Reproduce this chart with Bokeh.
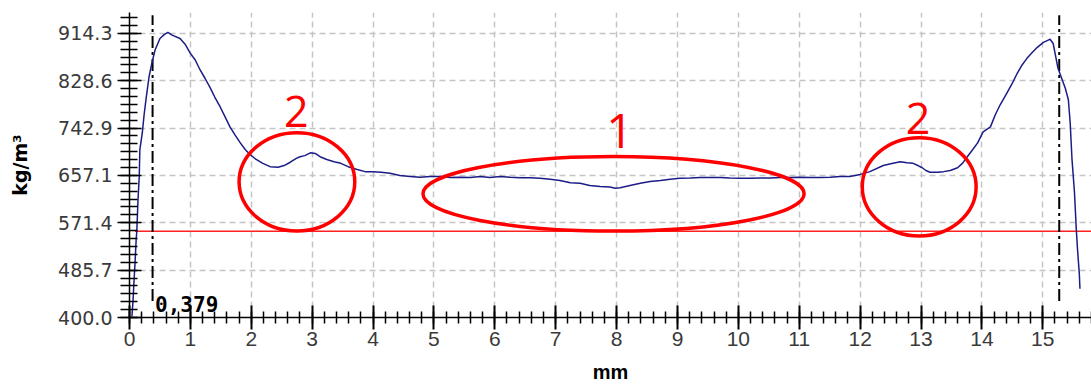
from bokeh.plotting import figure
from bokeh.models import FixedTicker, NumeralTickFormatter, Range1d, Label, ColumnDataSource
from bokeh.embed import file_html
from bokeh.resources import INLINE

# ---------------- data ----------------
pos_mm = [0.04, 0.06, 0.07, 0.09, 0.11, 0.12, 0.14, 0.16, 0.17, 0.21, 0.24, 0.27, 0.32, 0.37, 0.42,
          0.50, 0.57, 0.63, 0.70, 0.83, 0.91, 1.00, 1.08, 1.16, 1.24, 1.32, 1.40, 1.49, 1.57, 1.65,
          1.73, 1.82, 1.90, 1.98, 2.08, 2.19, 2.31, 2.44, 2.54, 2.64, 2.74, 2.80, 2.88, 2.97, 3.05,
          3.13, 3.24, 3.36, 3.47, 3.59, 3.74, 3.87, 4.00, 4.13, 4.28, 4.44, 4.61, 4.77, 4.94, 5.10,
          5.27, 5.43, 5.60, 5.76, 5.92, 6.09, 6.25, 6.42, 6.58, 6.74, 6.91, 7.07, 7.24, 7.40, 7.56,
          7.73, 7.89, 7.98, 8.06, 8.22, 8.39, 8.55, 8.72, 8.88, 9.04, 9.21, 9.37, 9.54, 9.70, 9.86,
          10.03, 10.19, 10.36, 10.52, 10.69, 10.85, 11.01, 11.18, 11.34, 11.51, 11.67, 11.83, 12.00,
          12.16, 12.38, 12.54, 12.66, 12.77, 12.87, 12.95, 13.02, 13.08, 13.15, 13.27, 13.37, 13.48,
          13.60, 13.68, 13.76, 13.85, 13.93, 14.02, 14.14, 14.22, 14.30, 14.41, 14.50, 14.58, 14.66,
          14.74, 14.83, 14.91, 15.01, 15.09, 15.12, 15.17, 15.25, 15.32, 15.37, 15.42, 15.45, 15.48,
          15.52, 15.55, 15.57, 15.60, 15.61]
density = [402, 434, 458, 497, 542, 556, 614, 655, 704, 734, 767, 794, 835, 862, 884,
           905, 912, 916, 911, 905, 895, 878, 866, 848, 833, 817, 799, 781, 763, 745,
           731, 716, 704, 695, 686, 679, 673, 672, 675, 681, 688, 691, 693, 698, 697,
           691, 686, 682, 679, 673, 668, 664, 664, 663, 661, 657, 655, 654, 655, 655,
           653.5, 654, 653.5, 655, 653.5, 655, 654, 653, 653, 652, 650, 648, 644, 643, 639,
           637, 636, 634, 635, 639, 643, 646, 648, 650, 652, 652.6, 653.5, 653.5, 653.5, 652.6,
           652, 652, 652.6, 652.6, 653.5, 653.5, 654, 653.5, 653.5, 654, 655, 655, 659,
           664, 675, 679, 682, 680, 679, 675, 671, 666, 663, 663, 664, 666,
           671, 679, 691, 704, 716, 736, 745, 767, 785, 806, 824, 842, 857,
           869, 880, 889, 898, 902, 903.5, 896, 851, 830, 815, 794, 752, 686,
           627, 560, 524, 479, 452]

x_ticks = list(range(0, 16))
y_ticks = [400.0, 485.7, 571.4, 657.1, 742.9, 828.6, 914.3]

threshold = 556.0            # red horizontal line
markers_mm = [0.379, 15.27]  # dash-dot limits
marker_text = "0,379"

# annotation ellipses: centre x, centre y, width (mm), height (kg/m3)
ell_x = [2.75, 7.95, 12.97]
ell_y = [645.5, 623.9, 636.5]
ell_w = [1.90, 6.26, 1.87]
ell_h = [178.0, 135.0, 178.0]
ann_text = ["2", "1", "2"]
ann_x = [2.74, 8.05, 12.95]
ann_y = [773.0, 738.0, 761.0]
ann_size = ["43px", "47px", "43px"]

# ---------------- figure ----------------
X_END = 15.80
Y_END = 952.0
p = figure(width=1091, height=385, output_backend="svg", toolbar_location=None,
           x_range=Range1d(0, X_END), y_range=Range1d(400, Y_END),
           min_border_left=129, min_border_right=0, min_border_top=12, min_border_bottom=66)
p.outline_line_color = None
p.background_fill_color = "white"
p.border_fill_color = "white"

# grid
p.xgrid.ticker = FixedTicker(ticks=x_ticks)
p.ygrid.ticker = FixedTicker(ticks=y_ticks)
for g in (p.xgrid, p.ygrid):
    g.grid_line_color = "#c4c4c4"
    g.grid_line_dash = "6 4"
    g.grid_line_width = 1.5

# x axis
xminor = [round(i * 0.2, 2) for i in range(0, int(X_END / 0.2) + 1)]
p.xaxis.ticker = FixedTicker(ticks=x_ticks, minor_ticks=xminor)
p.xaxis.axis_line_color = "black"
p.xaxis.axis_line_width = 1.5
p.xaxis.major_tick_line_color = "black"
p.xaxis.major_tick_line_width = 2
p.xaxis.major_tick_out = 12
p.xaxis.major_tick_in = 12
p.xaxis.minor_tick_line_color = "black"
p.xaxis.minor_tick_line_width = 1.5
p.xaxis.minor_tick_out = 6
p.xaxis.minor_tick_in = 6
p.xaxis.major_label_standoff = 2
p.xaxis.major_label_text_font = "Liberation Sans"
p.xaxis.major_label_text_font_size = "21px"
p.xaxis.major_label_text_color = "#3a3a3a"
p.xaxis.axis_label = "mm"
p.xaxis.axis_label_text_font = "Liberation Sans"
p.xaxis.axis_label_text_font_style = "bold"
p.xaxis.axis_label_text_font_size = "20px"
p.xaxis.axis_label_text_color = "black"
p.xaxis.axis_label_standoff = 12

# y axis
yminor = [400 + i * (514.3 / 36) for i in range(0, 39) if 400 + i * (514.3 / 36) <= Y_END]
p.yaxis.ticker = FixedTicker(ticks=y_ticks, minor_ticks=yminor)
p.yaxis.formatter = NumeralTickFormatter(format="0.0")
p.yaxis.axis_line_color = "black"
p.yaxis.axis_line_width = 1.5
p.yaxis.major_tick_line_color = "black"
p.yaxis.major_tick_line_width = 1.5
p.yaxis.major_tick_out = 12
p.yaxis.major_tick_in = 12
p.yaxis.minor_tick_line_color = "black"
p.yaxis.minor_tick_line_width = 1.5
p.yaxis.minor_tick_out = 9
p.yaxis.minor_tick_in = 8
p.yaxis.major_label_standoff = 5
p.yaxis.major_label_text_font = "DejaVu Sans"
p.yaxis.major_label_text_font_size = "19px"
p.yaxis.major_label_text_color = "#3a3a3a"
p.yaxis.axis_label = "kg/m³"
p.yaxis.axis_label_text_font = "DejaVu Sans"
p.yaxis.axis_label_text_font_style = "bold"
p.yaxis.axis_label_text_font_size = "19px"
p.yaxis.axis_label_text_color = "black"
p.yaxis.axis_label_standoff = 24

# threshold line
p.line([0.09, X_END], [threshold, threshold], line_color="#ff2020", line_width=1.5)

# dash-dot limit lines
for m in markers_mm:
    p.line([m, m], [430.0, 947.0], line_color="black", line_width=2, line_dash="12 4 3 4")

# density profile
src = ColumnDataSource(dict(x=pos_mm, y=density))
p.line("x", "y", source=src, line_color="#1c1c88", line_width=1.5)

# marker value text
p.add_layout(Label(x=0.42, y=424.0, text=marker_text, text_font="DejaVu Sans Mono",
                   text_font_style="bold", text_font_size="21px", text_color="black",
                   text_baseline="middle", text_align="left"))

# annotation ellipses
p.ellipse(x=ell_x, y=ell_y, width=ell_w, height=ell_h, fill_color=None,
          line_color="#ff0000", line_width=3.5)
for t, ax, ay, fs in zip(ann_text, ann_x, ann_y, ann_size):
    p.add_layout(Label(x=ax, y=ay, text=t, text_font="Open Sans",
                       text_font_size=fs, text_color="#ff0000",
                       text_baseline="middle", text_align="center"))

open("out.html", "w").write(file_html(p, INLINE))
